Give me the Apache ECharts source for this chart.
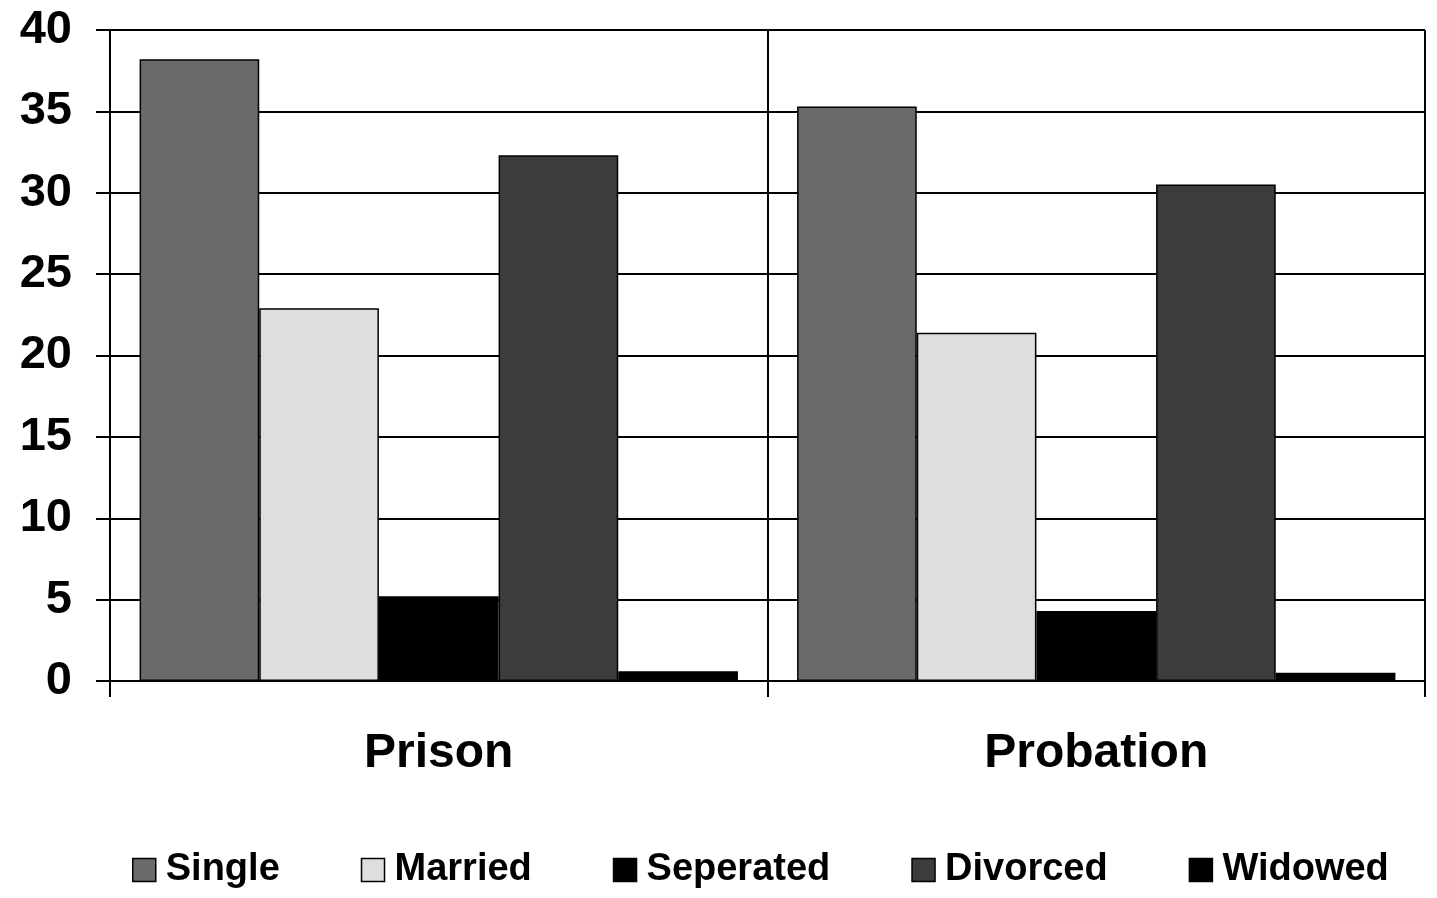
<!DOCTYPE html>
<html>
<head>
<meta charset="utf-8">
<script src="https://cdn.jsdelivr.net/npm/echarts@6/dist/echarts.min.js"></script>
<style>html,body{margin:0;padding:0;background:#fff}#c{width:1437px;height:898px}</style>
</head>
<body>
<div id="c"></div>
<script>
const categories = ['Prison', 'Probation'];
const seriesNames = ['Single', 'Married', 'Seperated', 'Divorced', 'Widowed'];
const single = [38.2, 35.3];
const married = [22.9, 21.4];
const seperated = [5.2, 4.3];
const divorced = [32.3, 30.5];
const widowed = [0.6, 0.5];
const yTicks = [0, 5, 10, 15, 20, 25, 30, 35, 40];

const colors = ['#6a6a6a', '#dedede', '#000000', '#3c3c3c', '#000000'];
const values = [single, married, seperated, divorced, widowed];
const font = 'Liberation Sans, Arial, sans-serif';

const chart = echarts.init(document.getElementById('c'));
chart.setOption({
  animation: false,
  backgroundColor: '#fff',
  grid: { left: 110, right: 12, top: 30, bottom: 217 },
  legend: {
    left: 127, top: 846,
    itemWidth: 23, itemHeight: 23, itemGap: 81,
    icon: 'rect',
    textStyle: { fontFamily: font, fontWeight: 'bold', fontSize: 38, color: '#000', padding: [0, 0, 0, 5] },
    data: seriesNames.map((n, i) => ({ name: n, itemStyle: { color: colors[i], borderColor: '#000', borderWidth: 1.5 } }))
  },
  xAxis: {
    type: 'category',
    data: categories,
    axisLine: { lineStyle: { color: '#000', width: 2 } },
    axisTick: { show: true, length: 16, lineStyle: { color: '#000', width: 2 } },
    splitLine: { show: true, lineStyle: { color: '#000', width: 2 } },
    axisLabel: { fontFamily: font, fontWeight: 'bold', fontSize: 48, color: '#000', margin: 49 }
  },
  yAxis: {
    type: 'value',
    min: yTicks[0], max: yTicks[yTicks.length - 1], interval: 5,
    axisLine: { show: true, lineStyle: { color: '#000', width: 2 } },
    axisTick: { show: true, length: 14, lineStyle: { color: '#000', width: 2 } },
    splitLine: { show: true, lineStyle: { color: '#000', width: 2 } },
    axisLabel: { fontFamily: font, fontWeight: 'bold', fontSize: 47, color: '#000', margin: 38 }
  },
  series: seriesNames.map((n, i) => ({
    name: n,
    type: 'bar',
    data: values[i],
    barGap: '0%',
    barCategoryGap: '9%',
    itemStyle: { color: colors[i], borderColor: '#000', borderWidth: 1.5 }
  }))
});
</script>
</body>
</html>
